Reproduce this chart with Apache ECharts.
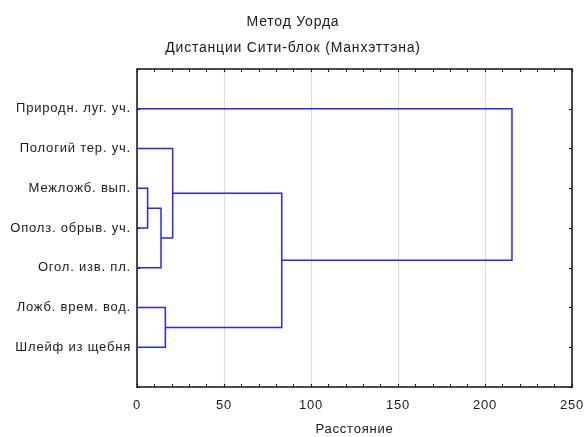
<!DOCTYPE html>
<html>
<head>
<meta charset="utf-8">
<script src="https://cdn.jsdelivr.net/npm/echarts@6/dist/echarts.min.js"></script>
<style>
  html, body { margin: 0; padding: 0; background: #fff; overflow: hidden; }
  #chart { width: 586px; height: 437px; }
</style>
</head>
<body>
<div id="chart"></div>
<script>
// Slightly open tracking for all canvas text (measurement and drawing alike)
(function () {
  const proto = CanvasRenderingContext2D.prototype;
  const fill = proto.fillText, measure = proto.measureText;
  proto.fillText = function () { this.letterSpacing = '0.8px'; return fill.apply(this, arguments); };
  proto.measureText = function () { this.letterSpacing = '0.8px'; return measure.apply(this, arguments); };
})();

// Leaves, top to bottom
const leafLabels = [
  'Природн. луг. уч.',
  'Пологий тер. уч.',
  'Межложб. вып.',
  'Ополз. обрыв. уч.',
  'Огол. изв. пл.',
  'Ложб. врем. вод.',
  'Шлейф из щебня'
];

// Ward agglomeration steps: children are leaf indices (0-based) or 'c' + step index
const mergeLeft   = [2, 'c0', 1, 5, 'c2', 0];
const mergeRight  = [3, 4, 'c1', 6, 'c3', 'c4'];
const mergeHeight = [6.1, 13.8, 20.5, 16.3, 83.2, 215.5];

const xTicks = { min: 0, max: 250, interval: 50 };

// Resolve node positions: leaves sit at 1..n, clusters at the midpoint of their children
const nodes = [];
function nodeInfo(ref) {
  if (typeof ref === 'number') return { y: ref + 1, h: 0 };
  return nodes[parseInt(ref.slice(1), 10)];
}
const links = [];
for (let i = 0; i < mergeHeight.length; i++) {
  const a = nodeInfo(mergeLeft[i]);
  const b = nodeInfo(mergeRight[i]);
  const h = mergeHeight[i];
  nodes.push({ y: (a.y + b.y) / 2, h: h });
  links.push([[a.h, a.y], [h, a.y], [h, b.y], [b.h, b.y]]);
}

const chart = echarts.init(document.getElementById('chart'), null, {
  renderer: 'canvas', width: 586, height: 437
});
const textColor = '#1a1a1a';
const font = 'Liberation Sans, Arial, sans-serif';
const frameLine = { show: true, onZero: false, lineStyle: { color: '#111', width: 1.5 } };
const innerTick = { show: true, inside: true, length: 3, lineStyle: { color: '#111' } };

chart.setOption({
  animation: false,
  backgroundColor: '#ffffff',
  title: {
    text: 'Метод Уорда',
    subtext: 'Дистанции Сити-блок (Манхэттэна)',
    left: 'center',
    top: 10,
    itemGap: 11,
    textStyle: { fontFamily: font, fontSize: 14, fontWeight: 'normal', color: textColor },
    subtextStyle: { fontFamily: font, fontSize: 14, color: textColor }
  },
  grid: { left: 137, right: 14, top: 69, bottom: 50, outerBoundsMode: 'none' },
  xAxis: [
    {
      type: 'value', position: 'bottom',
      min: xTicks.min, max: xTicks.max, interval: xTicks.interval,
      name: 'Расстояние', nameLocation: 'middle', nameGap: 36,
      nameTextStyle: { fontFamily: font, fontSize: 13, color: textColor },
      axisLine: frameLine,
      axisTick: innerTick,
      minorTick: { show: true, splitNumber: 5, length: 3, lineStyle: { color: '#111' } },
      axisLabel: { fontFamily: font, fontSize: 13, color: textColor, margin: 12 },
      splitLine: { show: true, lineStyle: { color: '#dcdcdc', width: 1.2 } }
    },
    {
      type: 'value', position: 'top',
      min: xTicks.min, max: xTicks.max, interval: xTicks.interval,
      axisLine: frameLine,
      axisTick: innerTick,
      minorTick: { show: true, splitNumber: 5, length: 3, lineStyle: { color: '#111' } },
      axisLabel: { show: false },
      splitLine: { show: false }
    }
  ],
  yAxis: [
    {
      type: 'value', position: 'left', inverse: true,
      min: 0, max: leafLabels.length + 1, interval: 1,
      axisLine: frameLine,
      axisTick: innerTick,
      axisLabel: {
        fontFamily: font, fontSize: 13, color: textColor, margin: 6,
        formatter: v => leafLabels[v - 1] || ''
      },
      splitLine: { show: false }
    },
    {
      type: 'value', position: 'right', inverse: true,
      min: 0, max: leafLabels.length + 1, interval: 1,
      axisLine: frameLine,
      axisTick: innerTick,
      axisLabel: { show: false },
      splitLine: { show: false }
    }
  ],
  series: [
    {
      type: 'custom',
      xAxisIndex: 0, yAxisIndex: 0,
      clip: false,
      data: links.map((l, i) => [i]),
      renderItem: function (params, api) {
        const pts = links[params.dataIndex].map(p => api.coord(p));
        return {
          type: 'polyline',
          shape: { points: pts },
          style: { stroke: '#2626ff', lineWidth: 1.5, fill: null }
        };
      }
    }
  ]
});
</script>
</body>
</html>
